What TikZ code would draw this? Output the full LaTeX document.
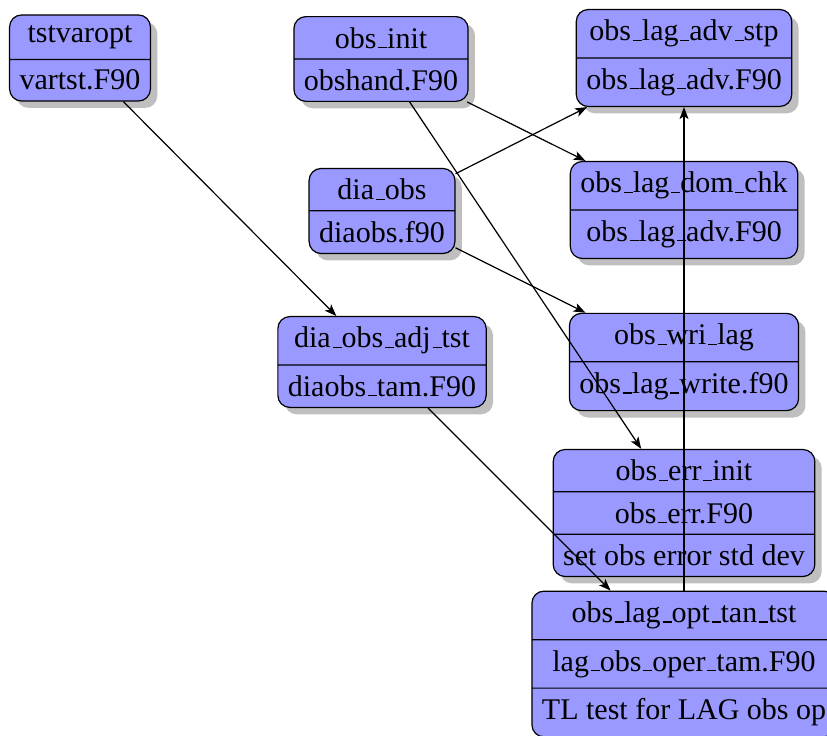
\documentclass[tikz,border=0pt]{standalone}
\usepackage{fontspec}
\setmainfont{Liberation Serif}
\usetikzlibrary{shapes.multipart,shadows,arrows.meta}
\newcommand\us{\leavevmode\kern.06em\vbox{\hrule width.3em}}
\begin{document}
\begin{tikzpicture}[x=0.33333pt,y=-0.33333pt,
  box/.style={rectangle split, rectangle split parts=#1, draw, fill=blue!40,
    rounded corners, drop shadow, align=center},
  conn/.style={-{Stealth[length=4pt,width=3pt,inset=1pt]}}]
\useasboundingbox (0,0) rectangle (827,736);
\clip (0,0) rectangle (827,736);
\node[box=2] (tst) at (80,58) {tstvaropt\nodepart{two}vartst.F90};
\node[box=2] (init) at (381,59) {obs\us init\nodepart{two}obshand.F90};
\node[box=2] (stp) at (684,58) {obs\us lag\us adv\us stp\nodepart{two}obs\us lag\us adv.F90};
\node[box=2] (dia) at (382,211) {dia\us obs\nodepart{two}diaobs.f90};
\node[box=2] (dom) at (684,210) {obs\us lag\us dom\us chk\nodepart{two}obs\us lag\us adv.F90};
\node[box=2] (adj) at (382,362) {dia\us obs\us adj\us tst\nodepart{two}diaobs\us tam.F90};
\node[box=2] (wri) at (684,362) {obs\us wri\us lag\nodepart{two}obs\us lag\us write.f90};
\node[box=3] (err) at (684,513) {obs\us err\us init\nodepart{two}obs\us err.F90\nodepart{three}set obs error std dev};
\node[box=3] (opt) at (684,664) {obs\us lag\us opt\us tan\us tst\nodepart{two}lag\us obs\us oper\us tam.F90\nodepart{three}TL test for LAG obs op};
\draw[conn] (tst) -- (adj);
\draw[conn] (init) -- (dom);
\draw[conn] (init) -- (err);
\draw[conn] (dia) -- (stp);
\draw[conn] (dia) -- (wri);
\draw[conn] (adj) -- (opt);
\draw[conn] (opt) -- (stp);
\end{tikzpicture}
\end{document}
